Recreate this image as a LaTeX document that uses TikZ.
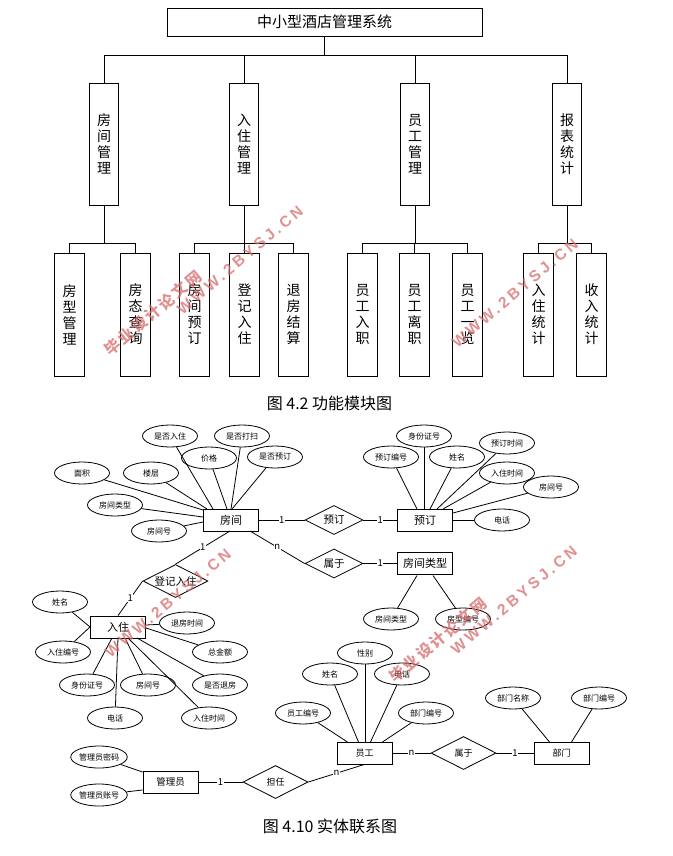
\documentclass[tikz,border=0pt]{standalone}
\usepackage{fontspec}
\setmainfont{Noto Sans CJK SC}
\newfontfamily\wwwfont[LetterSpace=21]{Liberation Sans}
\newfontfamily\zhmarkfont[LetterSpace=14]{Noto Sans CJK SC}
\usetikzlibrary{shapes}
\usetikzlibrary{positioning}
\definecolor{markred}{rgb}{0.84,0.42,0.42}
\tikzset{
  tallbox/.style={draw, rectangle, inner sep=0pt, font=\fontsize{14}{16}\selectfont, align=center},
  attr/.style={draw, ellipse, minimum width=55, minimum height=22, inner sep=0pt, font=\fontsize{8}{9}\selectfont},
  entity/.style={draw, rectangle, minimum width=55, minimum height=22, inner sep=0pt, font=\fontsize{11}{12}\selectfont},
  rel/.style={draw, diamond, aspect=2, inner sep=0pt, font=\fontsize{10.5}{11}\selectfont},
  lab/.style={fill=white, inner sep=0.5pt, font=\fontsize{9.5}{10}\selectfont},
  caption/.style={font=\fontsize{16}{18}\selectfont},
  wwwmark/.style={rotate=40, text=markred, opacity=0.75, font=\fontsize{15.5}{16}\bfseries\wwwfont},
  zhmark/.style={rotate=40, text=markred, opacity=0.75, font=\fontsize{15.5}{16}\bfseries\zhmarkfont},
}

\begin{document}
\begin{tikzpicture}[x=1pt,y=-1pt,line width=0.8pt]
  \useasboundingbox (0,0) rectangle (672,856);

  % module tree
  \node[draw, minimum width=315, minimum height=28, inner sep=0pt, font=\fontsize{15}{16}\selectfont] (sysRoot) at (324.5,22) {中小型酒店管理系统};
  \foreach \n/\x/\t in {modRoom/104/房\\间\\管\\理, modStay/244/入\\住\\管\\理, modStaff/415/员\\工\\管\\理, modReport/567/报\\表\\统\\计} {
    \node[tallbox, minimum width=29.5, minimum height=122] (\n) at (\x,144) {\t};
  }
  \foreach \n/\x/\t in {leafA/69.5/房\\型\\管\\理, leafB/135.5/房\\态\\查\\询, leafC/194.5/房\\间\\预\\订, leafD/244.5/登\\记\\入\\住, leafE/293.5/退\\房\\结\\算,
      leafF/362.5/员\\工\\入\\职, leafG/414.5/员\\工\\离\\职, leafH/467.5/员\\工\\一\\览, leafI/538.5/入\\住\\统\\计, leafJ/591.5/收\\入\\统\\计} {
    \node[tallbox, minimum width=29.5, minimum height=123] (\n) at (\x,314.5) {\t};
  }

  \coordinate (busTop) at (324.5,55);
  \draw (sysRoot) -- (busTop);
  \foreach \n in {modRoom,modStay,modStaff,modReport} {
    \draw (busTop) -| (\n.north);
  }
  \coordinate (busRoom) at (104,243);
  \coordinate (busStay) at (244,243);
  \coordinate (busStaff) at (415,243);
  \coordinate (busReport) at (567,243);
  \foreach \m/\b in {modRoom/busRoom, modStay/busStay, modStaff/busStaff, modReport/busReport} {
    \draw (\m) -- (\b);
  }
  \foreach \b/\n in {busRoom/leafA, busRoom/leafB, busStay/leafC, busStay/leafD, busStay/leafE, busStaff/leafF, busStaff/leafG, busStaff/leafH, busReport/leafI, busReport/leafJ} {
    \draw (\b) -| (\n.north);
  }

  \node[caption] (capTree) at (329.5,403) {图 4.2 功能模块图};

  % entities and relations
  \node[entity] (roomEnt) at (231,520) {房间};
  \node[entity] (bookEnt) at (425,520) {预订};
  \node[entity] (typeEnt) at (425,563.5) {房间类型};
  \node[entity] (stayEnt) at (118,627) {入住};
  \node[entity, font=\fontsize{9.5}{10}\selectfont] (adminEnt) at (170.5,782) {管理员};
  \node[entity, font=\fontsize{9}{10}\selectfont] (staffEnt) at (364.5,753) {员工};
  \node[entity, font=\fontsize{9}{10}\selectfont] (deptEnt) at (561.5,753) {部门};

  \node[rel, minimum width=58, minimum height=29] (relBook) at (334,520) {预订};
  \node[rel, minimum width=58, minimum height=29] (relType) at (334,563.5) {属于};
  \node[rel, minimum width=65, minimum height=33] (relStay) at (175.5,581) {登记入住};
  \node[rel, minimum width=65, minimum height=33, font=\fontsize{9}{10}\selectfont] (relAdmin) at (275.5,782) {担任};
  \node[rel, minimum width=65, minimum height=33, font=\fontsize{9}{10}\selectfont] (relDept) at (463.5,753) {属于};

  % attributes: name, x, y, text
  \foreach \n/\x/\y/\t in {
      aRoomIn/170/436/是否入住, aRoomClean/242/436/是否打扫, aRoomPrice/209/458/价格, aRoomBook/275/457/是否预订,
      aRoomArea/82/473/面积, aRoomFloor/151/473/楼层, aRoomType/115/505/房间类型, aRoomNo/159/531/房间号,
      aBookNo/391/457/预订编号, aBookId/424/436/身份证号, aBookName/457/457/姓名, aBookTime/507/443/预订时间,
      aBookIn/507/473/入住时间, aBookRoom/551/487/房间号, aBookTel/502/520/电话,
      aTypeName/391/619/房间类型, aTypeNo/463/619/房型编号,
      aStayName/60/602/姓名, aStayOut/187/623/退房时间, aStayNo/63/652/入住编号, aStaySum/220/652/总金额,
      aStayId/87/685/身份证号, aStayRoom/148/685/房间号, aStayBack/220/685/是否退房, aStayTel/115/718/电话, aStayIn/209/718/入住时间,
      aAdminPwd/99/757/管理员密码, aAdminAcc/99/795/管理员账号,
      aStaffNo/303/713/员工编号, aStaffName/330/674/姓名, aStaffSex/365/653/性别, aStaffTel/402/674/电话, aStaffDept/426/713/部门编号,
      aDeptName/513/698/部门名称, aDeptNo/599/698/部门编号} {
    \node[attr] (\n) at (\x,\y) {\t};
  }

  % attribute lines: attribute, entity, offset from the entity's centre
  \foreach \a/\e/\dx/\dy in {
      aRoomIn/roomEnt/-18/-11, aRoomClean/roomEnt/0/-11, aRoomPrice/roomEnt/-4/-11, aRoomBook/roomEnt/1/-11,
      aRoomArea/roomEnt/-28/-10, aRoomFloor/roomEnt/-24/-11, aRoomType/roomEnt/-28/-3, aRoomNo/roomEnt/-28/2,
      aBookNo/bookEnt/-8/-11, aBookId/bookEnt/-1/-11, aBookName/bookEnt/5/-11, aBookTime/bookEnt/12/-11,
      aBookIn/bookEnt/18/-11, aBookRoom/bookEnt/28/-7, aBookTel/bookEnt/28/0,
      aTypeName/typeEnt/-8/12, aTypeNo/typeEnt/8/12,
      aStayName/stayEnt/-28/0, aStayOut/stayEnt/28/-2, aStayNo/stayEnt/-28/0, aStaySum/stayEnt/28/1,
      aStayId/stayEnt/-6/11, aStayRoom/stayEnt/7/11, aStayBack/stayEnt/19/11, aStayTel/stayEnt/0/11, aStayIn/stayEnt/10/11,
      aAdminPwd/adminEnt/-28/-10, aAdminAcc/adminEnt/-28/8,
      aStaffNo/staffEnt/-17/-11, aStaffName/staffEnt/-6/-11, aStaffSex/staffEnt/0.5/-11, aStaffTel/staffEnt/6/-11, aStaffDept/staffEnt/18/-11,
      aDeptName/deptEnt/-12/-11, aDeptNo/deptEnt/10/-11} {
    \draw (\a) -- ([shift={(\dx,\dy)}]\e.center);
  }

  % relation lines
  \draw (roomEnt.east) -- node[lab] (labA) {1} (relBook.west);
  \draw (relBook.east) -- node[lab] (labB) {1} (bookEnt.west);
  \draw (relType.east) -- node[lab] (labC) {1} (typeEnt.west);
  \draw ([shift={(19,11)}]roomEnt.center) -- node[lab] (labD) {n} (relType.west);
  \draw ([shift={(-1,11)}]roomEnt.center) -- node[lab] (labE) {1} (relStay.north);
  \draw (relStay.west) -- node[lab] (labF) {1} (stayEnt.north);
  \draw (adminEnt.east) -- node[lab] (labG) {1} (relAdmin.west);
  \draw (relAdmin.east) -- node[lab] (labH) {n} (staffEnt.south);
  \draw (staffEnt.east) -- node[lab] (labI) {n} (relDept.west);
  \draw (relDept.east) -- node[lab] (labJ) {1} (deptEnt.west);

  \node[caption] (capEr) at (330,826) {图 4.10 实体联系图};

  % marks over the picture
  \node[zhmark] (markA) at (153,313) {毕业设计论文网};
  \node[wwwmark] (markB) at (240,260) {WWW.2BYSJ.CN};
  \node[wwwmark] (markC) at (515,293) {WWW.2BYSJ.CN};
  \node[wwwmark] (markD) at (168,603) {WWW.2BYSJ.CN};
  \node[zhmark] (markE) at (438,640) {毕业设计论文网};
  \node[wwwmark] (markF) at (514,600) {WWW.2BYSJ.CN};
\end{tikzpicture}
\end{document}
